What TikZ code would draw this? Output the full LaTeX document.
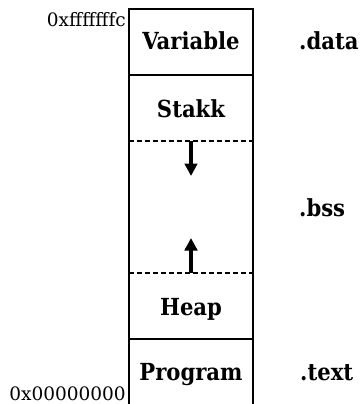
\documentclass[tikz,border=0pt]{standalone}
\usepackage{fontspec}
\setmainfont{DejaVu Serif}
\newfontfamily\labelfont{DejaVu Serif Condensed}
\usetikzlibrary{arrows.meta}
\begin{document}
\begin{tikzpicture}[x=1pt,y=-1pt,
  lbl/.style={font=\labelfont\fontsize{23.5}{27}\selectfont\bfseries, anchor=base, inner sep=0pt},
  seg/.style={font=\labelfont\fontsize{23.5}{27}\selectfont\bfseries, anchor=base west, inner sep=0pt},
  addr/.style={font=\fontsize{18.5}{21}\selectfont, anchor=base east, inner sep=0pt},
  wall/.style={line width=1.6pt},
  sepline/.style={line width=1.6pt, dash pattern=on 5pt off 3pt},
  growarrow/.style={line width=3.4pt, -{Triangle[width=12.5pt,length=12.5pt]}}]
\useasboundingbox (0,0) rectangle (360,404);
\clip (0,0) rectangle (360,404);
% frame
\coordinate (tl) at (129,9);
\coordinate (tr) at (253,9);
\coordinate (bl) at (129,412);
\coordinate (br) at (253,412);
\coordinate (d1l) at (129,75);  \coordinate (d1r) at (253,75);
\coordinate (s1l) at (129,141); \coordinate (s1r) at (253,141);
\coordinate (s2l) at (129,273); \coordinate (s2r) at (253,273);
\coordinate (d2l) at (129,339); \coordinate (d2r) at (253,339);
\draw[wall] (bl) -- (tl) -- (tr) -- (br);
\draw[wall] (d1l) -- (d1r);
\draw[wall] (d2l) -- (d2r);
\draw[sepline] (s1l) -- (s1r);
\draw[sepline] (s2l) -- (s2r);
% growth arrows
\coordinate (a1s) at (191,141); \coordinate (a1e) at (191,176);
\coordinate (a2s) at (191,273); \coordinate (a2e) at (191,238);
\draw[growarrow] (a1s) -- (a1e);
\draw[growarrow] (a2s) -- (a2e);
% cell labels
\node[lbl] (var) at (191,49) {Variable};
\node[lbl] (stk) at (191,117) {Stakk};
\node[lbl] (hp) at (191,315) {Heap};
\node[lbl] (prg) at (191,380) {Program};
% segment labels
\node[seg] (data) at (299,50) {.data};
\node[seg] (bss) at (299,216) {.bss};
\node[seg] (text) at (300,380) {.text};
% addresses
\node[addr] (hi) at (126,27) {0xfffffffc};
\node[addr] (lo) at (126,400) {0x00000000};
\end{tikzpicture}
\end{document}
